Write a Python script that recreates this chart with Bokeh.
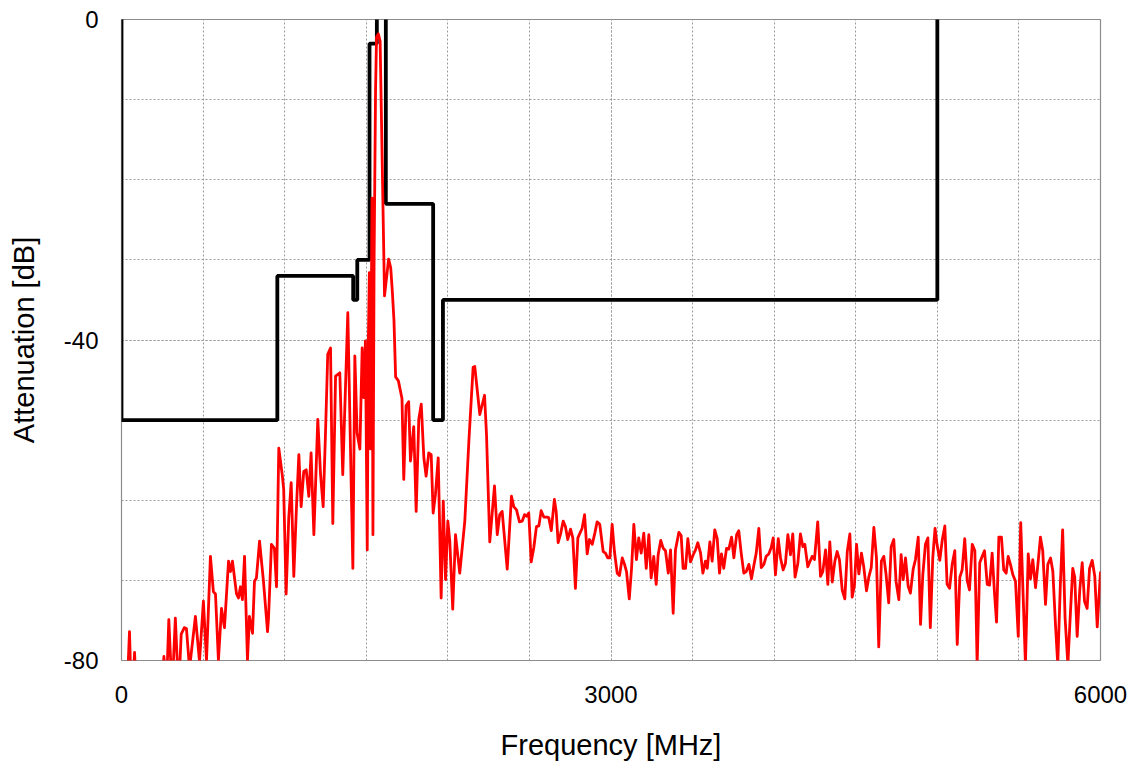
from bokeh.plotting import figure
from bokeh.models import Range1d, FixedTicker
from bokeh.embed import file_html
from bokeh.resources import INLINE

# ---- data ----
FREQ_MHZ = [
    0, 30, 49, 62, 80, 95, 150, 210, 245, 260, 275, 290, 310, 330, 350, 366, 385, 398, 417, 453,
    478, 502, 521, 545, 563, 576, 594, 613, 631, 656, 668, 680, 705, 717, 729, 741, 754, 772, 784, 803,
    815, 827, 846, 870, 895, 901, 919, 937, 950, 964, 985, 994, 1009, 1025, 1040, 1056, 1072, 1087, 1101, 1117,
    1132, 1148, 1162, 1179, 1203, 1220, 1236, 1250, 1264, 1281, 1295, 1312, 1338, 1356, 1387, 1418, 1430, 1444, 1461, 1475,
    1485, 1495, 1506, 1513, 1519, 1526, 1535, 1541, 1548, 1557, 1563, 1574, 1585, 1612, 1637, 1650, 1660, 1670, 1680, 1697,
    1719, 1730, 1744, 1760, 1771, 1791, 1806, 1822, 1837, 1853, 1867, 1883, 1898, 1910, 1924, 1941, 1959, 1972, 1986, 2000,
    2012, 2030, 2047, 2073, 2104, 2129, 2155, 2165, 2196, 2225, 2237, 2257, 2286, 2303, 2318, 2333, 2364, 2390, 2404, 2421,
    2439, 2456, 2470, 2482, 2496, 2511, 2527, 2543, 2558, 2572, 2588, 2609, 2619, 2634, 2653, 2664, 2676, 2691, 2707, 2721,
    2735, 2752, 2766, 2782, 2797, 2823, 2838, 2854, 2868, 2885, 2901, 2915, 2931, 2952, 2966, 2980, 2993, 3007, 3021, 3038,
    3052, 3069, 3083, 3095, 3112, 3126, 3140, 3156, 3170, 3185, 3201, 3216, 3232, 3246, 3262, 3277, 3289, 3305, 3320, 3334,
    3351, 3365, 3381, 3395, 3416, 3430, 3442, 3457, 3471, 3487, 3504, 3518, 3532, 3549, 3563, 3579, 3590, 3606, 3620, 3636,
    3651, 3665, 3677, 3691, 3708, 3722, 3739, 3753, 3770, 3783, 3798, 3814, 3829, 3845, 3861, 3875, 3890, 3906, 3921, 3937,
    3951, 3967, 3982, 3994, 4008, 4025, 4039, 4055, 4069, 4084, 4100, 4114, 4128, 4145, 4161, 4176, 4188, 4206, 4218, 4233,
    4247, 4267, 4284, 4298, 4315, 4329, 4341, 4356, 4372, 4386, 4400, 4417, 4433, 4448, 4464, 4478, 4492, 4505, 4519, 4535,
    4549, 4566, 4580, 4595, 4611, 4627, 4641, 4657, 4672, 4686, 4702, 4717, 4733, 4747, 4764, 4778, 4791, 4805, 4821, 4835,
    4852, 4866, 4883, 4897, 4911, 4927, 4942, 4957, 4972, 4986, 4998, 5015, 5030, 5046, 5060, 5075, 5091, 5107, 5122, 5138,
    5152, 5168, 5183, 5197, 5214, 5230, 5244, 5260, 5275, 5289, 5306, 5320, 5336, 5350, 5363, 5377, 5393, 5407, 5422, 5434,
    5448, 5463, 5479, 5496, 5511, 5526, 5540, 5557, 5571, 5585, 5602, 5616, 5632, 5646, 5663, 5677, 5694, 5708, 5724, 5738,
    5754, 5768, 5783, 5800, 5816, 5830, 5842, 5857, 5873, 5888, 5902, 5918, 5933, 5949, 5965, 5980, 6000,
]
ATTEN_DB = [
    -88, -86, -76.4, -86, -79, -86, -88, -86, -84, -79.5, -84, -74.9, -84, -74.7, -84, -76.7, -75.9, -76, -81, -74.5,
    -80.1, -72.6, -80, -67, -71.4, -71.7, -80, -73.5, -75.9, -67.6, -68.9, -67.6, -71.7, -72.2, -70.8, -72.4, -67, -80, -74.5, -76.6,
    -70.1, -69.7, -65.1, -70.1, -76.4, -74.7, -65.5, -66, -70.8, -53.5, -56.8, -58.6, -71.7, -62.2, -57.8, -69.5, -61, -54.3, -60.8, -56.4,
    -56.2, -59.5, -54.1, -64.3, -49.9, -56.8, -60.8, -51.8, -41.8, -41, -62.9, -44.5, -44.1, -56.8, -36.6, -68.5, -42, -51.6, -53.6, -41,
    -47.2, -40.1, -66.2, -40, -31.6, -53.6, -22.3, -64.3, -30.4, -8.9, -2.2, -1.8, -2.7, -34.5, -29.9, -31, -34, -37.6, -44.6, -45.1,
    -47.3, -57.4, -48.2, -47.7, -55.1, -50.8, -61.4, -49.9, -48, -54.7, -57, -54.1, -54.3, -61.6, -59.3, -54.7, -72.2, -60.1, -69.9, -62.6,
    -65.1, -73.6, -64.3, -69.1, -62.6, -52.6, -43.4, -43.3, -49.3, -46.9, -51.8, -65.2, -58.2, -64.3, -61.8, -61.4, -68.6, -59.5, -60.8, -61.2,
    -62.7, -62.6, -61.8, -62, -61.6, -67.7, -65.9, -63.3, -63.2, -61.3, -62.1, -62.1, -62.2, -63.8, -59.9, -61.4, -65.3, -64.2, -62.6, -63.3,
    -64.9, -63.6, -64.7, -71, -64.7, -63.5, -61.8, -66.7, -64.9, -65.5, -64.1, -62.7, -63, -66.4, -66.6, -67.2, -67.2, -63, -66.4, -69.1,
    -69.4, -67.2, -68, -68.9, -72.3, -68.5, -63, -67.4, -64.7, -66.6, -64.1, -68.5, -64.3, -69.7, -67, -70.5, -66.8, -65, -66, -66.3,
    -69.1, -66.2, -74.1, -66.2, -64, -64.4, -68.5, -68.5, -64.8, -67.7, -66.8, -66.2, -65.3, -66.6, -69.1, -67.6, -68.5, -65.2, -67.6, -63.7,
    -64.8, -69.1, -66.7, -68.5, -66, -66.1, -64.6, -67.2, -64.3, -63.8, -66.6, -69.1, -68.9, -68, -69.8, -68.2, -66.6, -63.5, -68.4, -68,
    -67, -66.7, -65.9, -64.7, -69.3, -64.8, -67.2, -68.7, -67.9, -64.3, -66.8, -64.2, -69.6, -67.9, -64.2, -65.8, -65.5, -68.3, -67.7, -67,
    -67.4, -62.7, -69.5, -68.9, -66.2, -70.5, -65.2, -70.2, -67.6, -66.4, -67.4, -71.2, -72.3, -66.4, -64.2, -72.1, -70.6, -65.5, -69.2, -66.6,
    -68.3, -71.3, -69.6, -68.4, -63.4, -67.2, -78.3, -67.6, -67, -69.3, -72.8, -65.8, -64.9, -70.1, -72.4, -66.8, -69.9, -67.2, -70.7, -71.6,
    -68.6, -67.4, -64.6, -75.5, -69.3, -65.5, -64.7, -75.9, -67.2, -63.5, -65.5, -67.5, -65, -63.2, -70.5, -71, -68, -66.3, -78, -69.6,
    -68.7, -64.8, -70, -71.2, -65.5, -66.3, -80.5, -67.8, -67, -66.3, -70.5, -70.6, -66.6, -71.5, -75.2, -64.6, -64.6, -68.7, -69.1, -67,
    -68, -69.3, -70.1, -77, -62.8, -72, -80.5, -66.7, -69.8, -67.4, -70.9, -68.1, -64.6, -66.3, -73, -68, -67.2, -68.9, -75.5, -80.5,
    -70.5, -63.7, -74.7, -80.5, -73.9, -68.5, -69.6, -77, -71.2, -67.8, -72.6, -73.5, -68.5, -67.5, -69.5, -75.8, -68.9,
]

# limit mask (values above 0 dB run off the top of the chart)
MASK_FREQ_MHZ = [0, 0, 955, 955, 1420, 1420, 1445, 1445, 1520, 1520, 1565, 1565, 1620, 1620,
                 1910, 1910, 1970, 1970, 5000, 5000]
MASK_DB = [10, -50, -50, -32, -32, -35, -35, -30, -30, -3, -3, 10, 10, -23,
           -23, -50, -50, -35, -35, 10]

X_TICKS = [0, 3000, 6000]
X_GRID = [0, 500, 1000, 1500, 2000, 2500, 3000, 3500, 4000, 4500, 5000, 5500, 6000]
Y_TICKS = [-80, -40, 0]
Y_GRID = [-80, -70, -60, -50, -40, -30, -20, -10, 0]

p = figure(width=1135, height=763, output_backend="svg", toolbar_location=None,
           x_range=Range1d(0, 6000), y_range=Range1d(-80, 0),
           min_border_left=121, min_border_right=35, min_border_top=19, min_border_bottom=103,
           x_axis_label="Frequency [MHz]", y_axis_label="Attenuation [dB]")
p.outline_line_color = "#8c8c8c"
p.outline_line_width = 1.2

p.line(MASK_FREQ_MHZ, MASK_DB, color="black", line_width=3.8)
p.line(FREQ_MHZ, ATTEN_DB, color="#ff0000", line_width=2.8, line_join="round")

p.xaxis.ticker = FixedTicker(ticks=X_TICKS, minor_ticks=X_GRID)
p.yaxis.ticker = FixedTicker(ticks=Y_TICKS, minor_ticks=Y_GRID)
p.yaxis.major_label_overrides = {t: str(t) for t in Y_TICKS}
p.xaxis.major_label_overrides = {t: str(t) for t in X_TICKS}

for g in (p.xgrid, p.ygrid):
    g.grid_line_color = "#9a9a9a"
    g.grid_line_dash = "2 2"
    g.grid_line_width = 1
    g.minor_grid_line_color = "#9a9a9a"
    g.minor_grid_line_dash = "2 2"
    g.minor_grid_line_width = 1

for ax in (p.xaxis, p.yaxis):
    ax.axis_line_color = None
    ax.major_tick_line_color = None
    ax.minor_tick_line_color = None
    ax.major_label_text_font = "Liberation Sans"
    ax.major_label_text_font_size = "24px"
    ax.major_label_text_color = "black"
    ax.axis_label_text_font = "Liberation Sans"
    ax.axis_label_text_font_size = "29px"
    ax.axis_label_text_font_style = "normal"
    ax.axis_label_text_color = "black"

p.xaxis.major_label_standoff = 19
p.yaxis.major_label_standoff = 17
p.xaxis.axis_label_standoff = 23
p.yaxis.axis_label_standoff = 21

open("out.html", "w").write(file_html(p, INLINE))
